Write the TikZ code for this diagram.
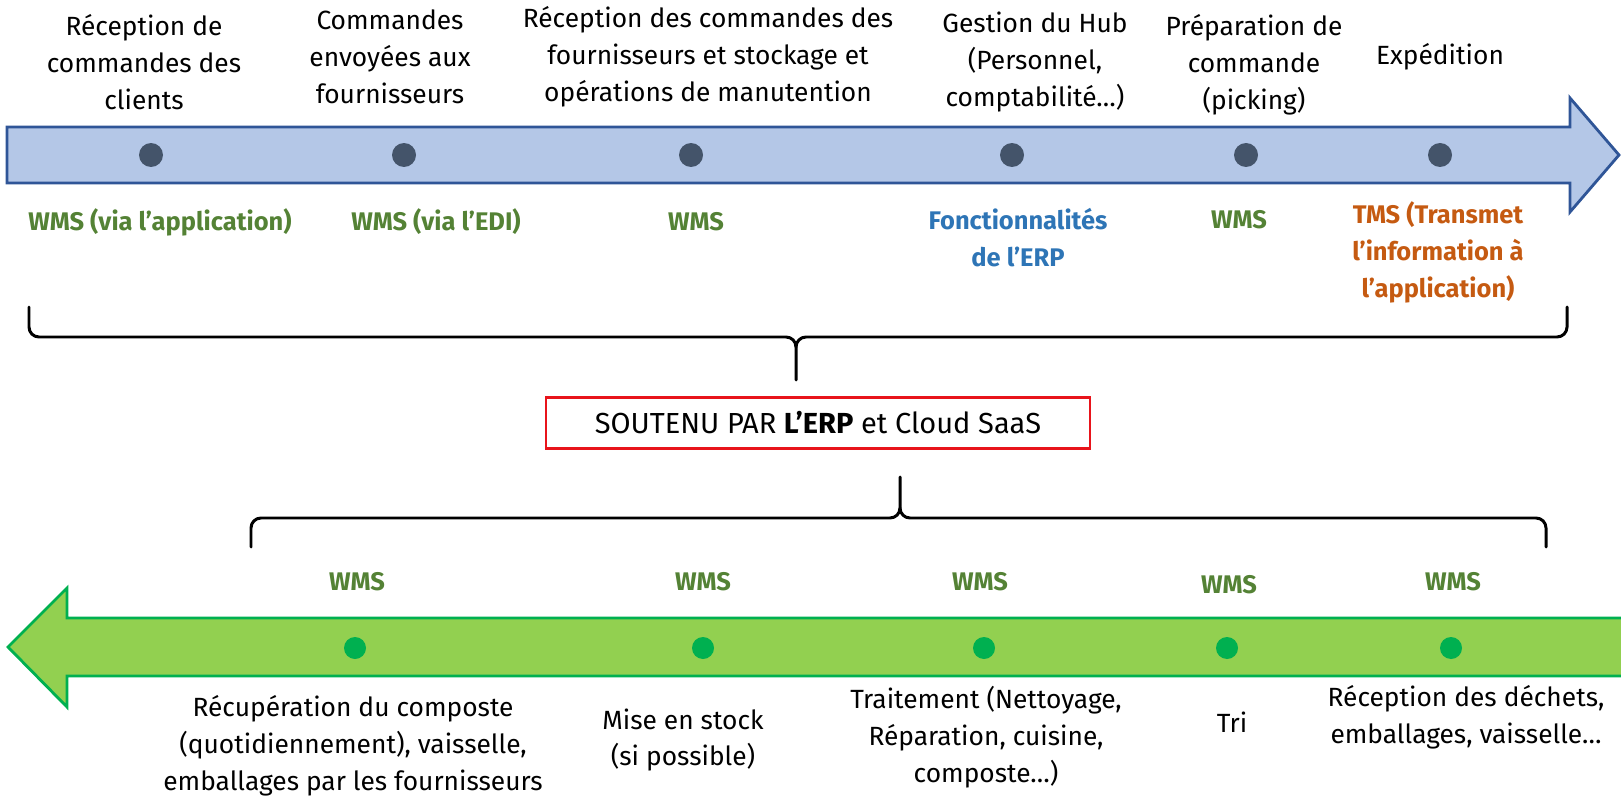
\documentclass[tikz,border=0pt]{standalone}
\usepackage{fontspec}
\setmainfont{Fira Sans}
\usetikzlibrary{calc}
\definecolor{flowblue}{HTML}{B4C7E7}
\definecolor{edgeblue}{HTML}{2F5597}
\definecolor{dotgrey}{HTML}{44546A}
\definecolor{wmsgreen}{HTML}{548235}
\definecolor{erpblue}{HTML}{2E75B6}
\definecolor{tmsorange}{HTML}{C55A11}
\definecolor{flowgreen}{HTML}{92D050}
\definecolor{edgegreen}{HTML}{00B050}
\definecolor{boxred}{HTML}{E8141B}
\newcommand*\lab{\fontsize{15}{21}\selectfont}
\newcommand*\tlab{\fontsize{14.5}{21}\selectfont\bfseries}

\begin{document}
\begin{tikzpicture}[x=0.02cm, y=-0.02cm,
        every node/.style={inner sep=0pt, align=center, font=\lab},
        tool/.style={font=\tlab, text=wmsgreen},
        bdot/.style={circle, fill=dotgrey, minimum size=0.48cm},
        gdot/.style={circle, fill=edgegreen, minimum size=0.44cm},
        brace/.style={line width=1.7pt, line cap=round}]
        \useasboundingbox (0,0) rectangle (1621,804);

        % flux aller
        \draw[fill=flowblue, draw=edgeblue, line width=1.6pt, line join=miter]
            (7,127) -- (1570,127) -- (1570,98) -- (1619,155) -- (1570,212) -- (1570,183) -- (7,183) -- cycle;

        \node (t1) at (144,62) {Réception de\\commandes des\\clients};
        \node (t2) at (390,57) {Commandes\\envoyées aux\\fournisseurs};
        \node (t3) at (708,57) {Réception des commandes des\\fournisseurs et stockage et\\opérations de manutention};
        \node (t4) at (1035,62) {Gestion du Hub\\(Personnel,\\comptabilité…)};
        \node (t5) at (1254,65) {Préparation de\\commande\\(picking)};
        \node (t6) at (1440,57) {Expédition};

        \node[bdot] (d1) at (151,155) {};
        \node[bdot] (d2) at (404,155) {};
        \node[bdot] (d3) at (691,155) {};
        \node[bdot] (d4) at (1012,155) {};
        \node[bdot] (d5) at (1246,155) {};
        \node[bdot] (d6) at (1440,155) {};

        \node[tool] (w1) at (160,222) {WMS (via l’application)};
        \node[tool] (w2) at (436,222) {WMS (via l’EDI)};
        \node[tool] (w3) at (696,222) {WMS};
        \node[tool, text=erpblue] (w4) at (1018,238) {Fonctionnalités\\de l’ERP};
        \node[tool] (w5) at (1239,220) {WMS};
        \node[tool, text=tmsorange] (w6) at (1438,252) {TMS (Transmet\\l’information à\\l’application)};

        % accolades et ERP
        \coordinate (ul) at (29,307);
        \coordinate (ur) at (1567,307);
        \coordinate (ut) at (796,380);
        \draw[brace] (ul) -- (29,327) to[out=-90,in=180] (39,337) -- (786,337) to[out=0,in=90] (796,347) -- (ut);
        \draw[brace] (796,347) to[out=90,in=180] (806,337) -- (1557,337) to[out=0,in=-90] (1567,327) -- (ur);

        \node[draw=boxred, line width=1.6pt, minimum width=10.88cm, minimum height=1.02cm,
            font=\fontsize{16.5}{21}\selectfont] (erp) at (818,423)
            {SOUTENU PAR \textbf{L’ERP} et Cloud SaaS};

        \coordinate (ll) at (251,547);
        \coordinate (lr) at (1546,547);
        \coordinate (lt) at (900,477);
        \draw[brace] (ll) -- (251,528) to[out=90,in=180] (261,518) -- (890,518) to[out=0,in=-90] (900,508) -- (lt);
        \draw[brace] (900,508) to[out=-90,in=180] (910,518) -- (1536,518) to[out=0,in=90] (1546,528) -- (lr);

        % flux retour
        \fill[flowgreen] (1621,618) -- (67,618) -- (67,588) -- (8,647) -- (67,707) -- (67,676) -- (1621,676) -- cycle;
        \draw[edgegreen, line width=1.6pt, line join=miter]
            (1622,618) -- (67,618) -- (67,588) -- (8,647) -- (67,707) -- (67,676) -- (1622,676);

        \node[tool] (v1) at (357,582) {WMS};
        \node[tool] (v2) at (703,582) {WMS};
        \node[tool] (v3) at (980,582) {WMS};
        \node[tool] (v4) at (1229,585) {WMS};
        \node[tool] (v5) at (1453,582) {WMS};

        \node[gdot] (g1) at (355,648) {};
        \node[gdot] (g2) at (703,648) {};
        \node[gdot] (g3) at (984,648) {};
        \node[gdot] (g4) at (1227,648) {};
        \node[gdot] (g5) at (1451,648) {};

        \node (b1) at (353,746) {Récupération du composte\\(quotidiennement), vaisselle,\\emballages par les fournisseurs};
        \node (b2) at (683,740) {Mise en stock\\(si possible)};
        \node (b3) at (986,737) {Traitement (Nettoyage,\\Réparation, cuisine,\\composte…)};
        \node (b4) at (1232,722) {Tri};
        \node (b5) at (1466,717) {Réception des déchets,\\emballages, vaisselle…};
    \end{tikzpicture}
\end{document}
